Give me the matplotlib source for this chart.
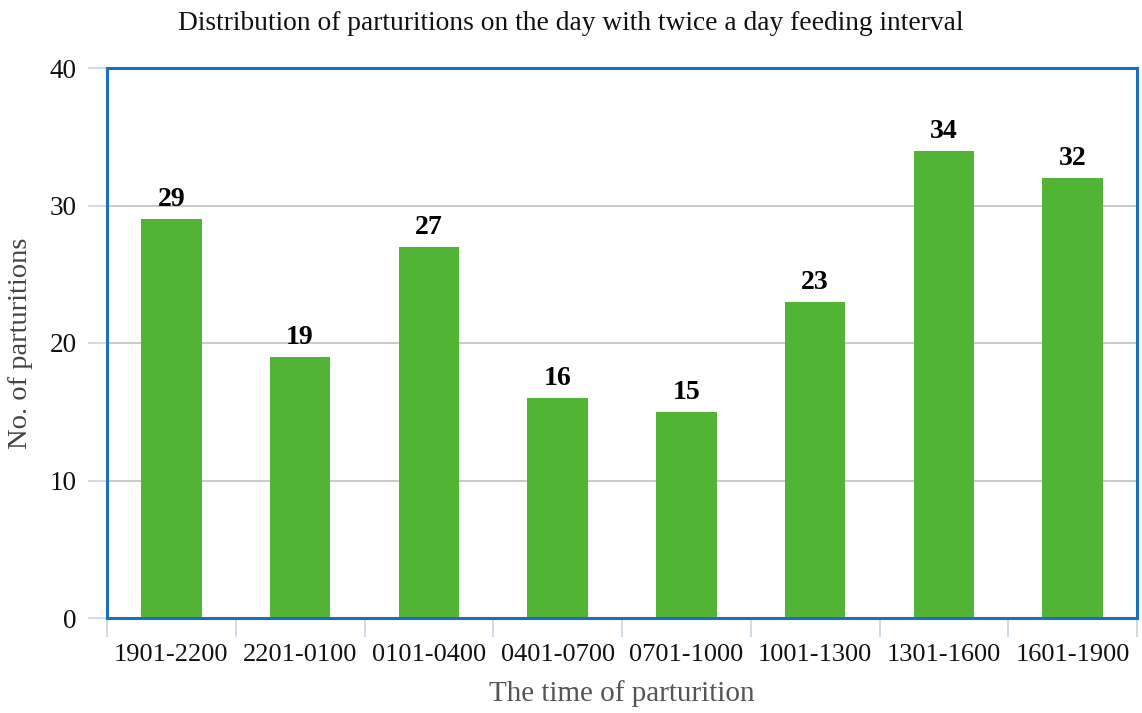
import matplotlib.pyplot as plt

categories = ["1901-2200", "2201-0100", "0101-0400", "0401-0700",
              "0701-1000", "1001-1300", "1301-1600", "1601-1900"]
counts = [29, 19, 27, 16, 15, 23, 34, 32]
y_ticks = [0, 10, 20, 30, 40]

plt.rcParams['font.family'] = ['Liberation Serif', 'DejaVu Serif']

fig = plt.figure(figsize=(11.42, 7.13), dpi=100)
ax = fig.add_axes([107 / 1142, 1 - 618 / 713, 1030 / 1142, 550 / 713])

x = range(len(categories))
bars = ax.bar(x, counts, width=0.47, color='#52b435', zorder=3)
for b, v in zip(bars, counts):
    ax.text(b.get_x() + b.get_width() / 2, v + 0.5, str(v),
            ha='center', va='bottom', fontsize=20, fontweight='bold')

ax.set_xlim(-0.5, len(categories) - 0.5)
ax.set_ylim(0, 40)
ax.set_yticks(y_ticks)
ax.yaxis.grid(True, color='#c0c0c0', linewidth=1.2, zorder=0)

ax.set_xticks(x)
ax.set_xticklabels(categories, fontsize=19)
ax.set_xticks([i - 0.5 for i in range(len(categories) + 1)], minor=True)
ax.tick_params(axis='x', which='major', length=0, pad=19, labelcolor='#111111')
ax.tick_params(axis='x', which='minor', length=14, color='#c8d4e0', width=1.2)
ax.tick_params(axis='y', length=14, color='#c8d4e0', width=1.2,
               labelsize=19.5, pad=8, labelcolor='#111111')

for s in ax.spines.values():
    s.set_color('#1a6fc0')
    s.set_linewidth(2.2)
    s.set_zorder(4)

ax.set_ylabel("No. of parturitions", fontsize=20.5, color='#444444', va='center')
ax.yaxis.set_label_coords(-0.084, 0.5)
ax.set_xlabel("The time of parturition", fontsize=21, labelpad=10, color='#555555')
fig.text(0.5, 1 - 24 / 713,
         "Distribution of parturitions on the day with twice a day feeding interval",
         fontsize=19.8, ha='center', va='center', color='#111111')

fig.savefig("out.png", dpi=100)
